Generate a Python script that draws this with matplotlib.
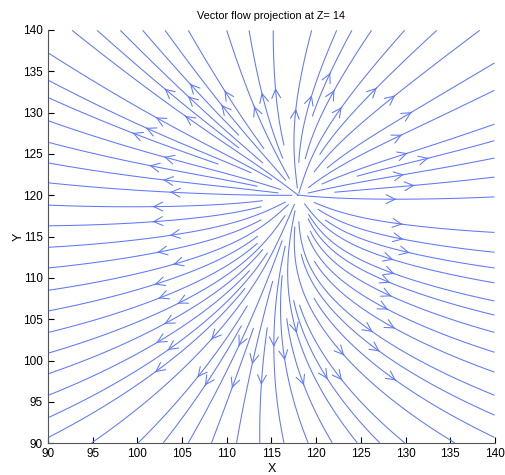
import numpy as np
import matplotlib
matplotlib.use('Agg')
import matplotlib.pyplot as plt

plt.rcParams['font.family'] = ['Liberation Sans', 'DejaVu Sans']

# flow field parameters
source_xy = (118.0, 120.0)     # where the flow lines meet
core_radius = 8.0              # lines leave the source straight out to about here
stretch_upper = 1.15           # sideways stretch far above the source
stretch_lower = 2.0            # sideways stretch far below the source
shear_upper = 0.16
shear_lower = 0.30
sag = 0.004                    # lines droop away from the source
blend = 3.0

# where the flow lines leave the box
exit_top_x = [92.7, 95.5, 98.1, 100.6, 103.1, 105.7, 110.0, 112.5, 115.2,
              119.5, 122.3, 124.0, 126.2, 129.9, 133.5, 138.3]
exit_bottom_x = [94.9, 100.1, 102.9, 105.7, 108.3, 111.1, 113.7, 116.4,
                 119.1, 121.8, 124.6, 127.1, 129.9, 135.5]
exit_left_y = [137.2, 133.9, 131.8, 129.0, 126.4, 123.9, 121.5, 118.8, 116.3,
               113.7, 111.2, 108.5, 106.0, 103.4, 100.9, 98.4, 95.8, 93.1, 90.7]
exit_right_y = [136.0, 132.7, 128.6, 126.6, 124.5, 122.2, 119.8, 115.5, 113.1,
                111.2, 109.4, 107.2, 105.5, 103.4, 101.0, 98.6, 95.8, 93.4, 90.7]

x_ticks = [90, 95, 100, 105, 110, 115, 120, 125, 130, 135, 140]
y_ticks = [90, 95, 100, 105, 110, 115, 120, 125, 130, 135, 140]

gx = np.linspace(90, 140, 101)
gy = np.linspace(90, 140, 101)
X, Y = np.meshgrid(gx, gy)
dx = X - source_xy[0]
dy = Y - source_xy[1]
w = 1.0 / (1.0 + np.exp(dy / blend))            # 1 below the source
g = 1.0 - np.exp(-(dx**2 + dy**2) / core_radius**2)  # 0 at the source
a_far = stretch_upper + (stretch_lower - stretch_upper) * w
s_far = shear_upper + (shear_lower - shear_upper) * w
a = 1.0 + (a_far - 1.0) * g
s = s_far * g
U = a * dx + s * np.abs(dy)
V = dy + sag * dx**2

eps = 0.05
seeds = ([(x, 140 - eps) for x in exit_top_x] +
         [(x, 90 + eps) for x in exit_bottom_x] +
         [(90 + eps, y) for y in exit_left_y] +
         [(140 - eps, y) for y in exit_right_y])
seeds = np.array(seeds)

fig = plt.figure(figsize=(5.05, 4.75), dpi=100)
ax = fig.add_axes([0.095, 0.067, 0.885, 0.870])

ax.streamplot(X, Y, U, V, density=2.5, color=(0.37, 0.47, 1.0),
              linewidth=0.75, arrowstyle='->', arrowsize=1.6,
              start_points=seeds, integration_direction='backward')

ax.set_xlim(90, 140)
ax.set_ylim(90, 140)
ax.set_xticks(x_ticks)
ax.set_yticks(y_ticks)
ax.tick_params(direction='in', length=4, labelsize=8.5, colors='black')
for sp in ['top', 'right']:
    ax.spines[sp].set_visible(False)
for sp in ['left', 'bottom']:
    ax.spines[sp].set_color('#555555')
ax.set_xlabel('X', fontsize=9, labelpad=2)
ax.set_ylabel('Y', fontsize=9, labelpad=-1)
ax.set_title('Vector flow projection at Z= 14', fontsize=7.8, pad=8)

fig.savefig('out.png', dpi=100)
